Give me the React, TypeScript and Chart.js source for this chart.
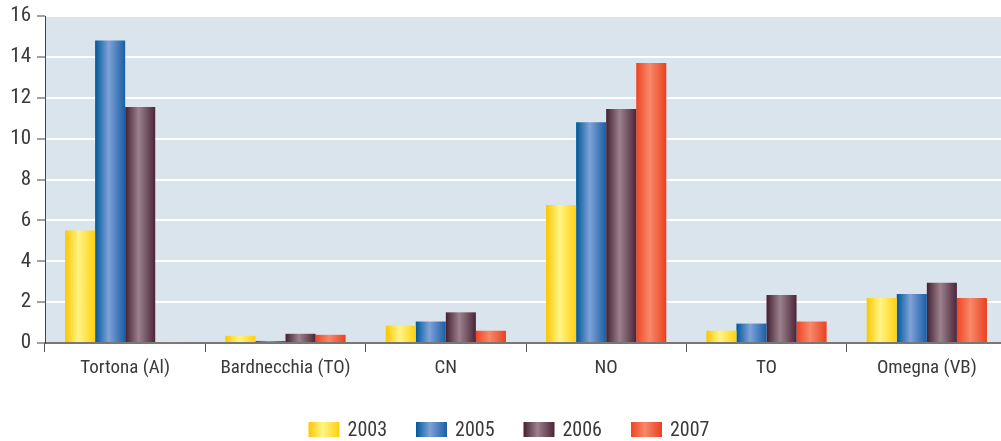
import React, { useEffect, useRef } from "react";
import { Chart, registerables } from "chart.js";

Chart.register(...registerables);

const categories = ["Tortona (Al)", "Bardnecchia (TO)", "CN", "NO", "TO", "Omegna (VB)"];
const seriesNames = ["2003", "2005", "2006", "2007"];
const values2003 = [5.5, 0.35, 0.85, 6.75, 0.6, 2.2];
const values2005 = [14.8, 0.1, 1.05, 10.8, 0.95, 2.4];
const values2006 = [11.55, 0.45, 1.5, 11.45, 2.35, 2.95];
const values2007 = [0.04, 0.4, 0.6, 13.7, 1.05, 2.2];
const yTicks = [0, 2, 4, 6, 8, 10, 12, 14, 16];

const gradientStops: string[][] = [
  ["#FDC600", "#FFF585", "#FFD010"],
  ["#00589A", "#7FA2D8", "#1A5EA6"],
  ["#45202F", "#9C818E", "#4C2538"],
  ["#EE4424", "#F6896A", "#EA4020"],
];

const FONT = "'Roboto Condensed', 'Liberation Sans Narrow', 'DejaVu Sans Condensed', sans-serif";
const CAT_PCT = 0.75;

function makeGradient(ctx: CanvasRenderingContext2D, x0: number, w: number, s: number) {
  if (!isFinite(x0) || !isFinite(w) || w <= 0) return gradientStops[s][0] as any;
  const g = ctx.createLinearGradient(x0, 0, x0 + w, 0);
  const c = gradientStops[s];
  g.addColorStop(0, c[0]);
  g.addColorStop(0.45, c[1]);
  g.addColorStop(1, c[2]);
  return g;
}

export default function App() {
  const ref = useRef<HTMLCanvasElement | null>(null);

  useEffect(() => {
    if (!ref.current) return;
    const allValues = [values2003, values2005, values2006, values2007];

    const bgPlugin = {
      id: "bg",
      beforeDraw(chart: any) {
        const { ctx, chartArea } = chart;
        ctx.save();
        ctx.fillStyle = "#D9E4EC";
        ctx.fillRect(chartArea.left, chartArea.top, chartArea.right - chartArea.left, chartArea.bottom - chartArea.top);
        ctx.restore();
      },
    };

    const legendPlugin = {
      id: "customLegend",
      afterDraw(chart: any) {
        const ctx = chart.ctx as CanvasRenderingContext2D;
        ctx.save();
        ctx.font = `20px ${FONT}`;
        const boxW = 31, boxH = 15, gap = 8, spacing = 29;
        const widths = seriesNames.map((n) => boxW + gap + ctx.measureText(n).width);
        const total = widths.reduce((a, b) => a + b, 0) + spacing * (seriesNames.length - 1);
        let x = chart.width / 2 + 5 - total / 2;
        const yTop = 422;
        seriesNames.forEach((n, i) => {
          ctx.fillStyle = makeGradient(ctx, x, boxW, i);
          ctx.fillRect(x, yTop, boxW, boxH);
          ctx.fillStyle = "#3a3a3a";
          ctx.textBaseline = "middle";
          ctx.textAlign = "left";
          ctx.fillText(n, x + boxW + gap, yTop + boxH / 2 + 1);
          x += widths[i] + spacing;
        });
        ctx.restore();
      },
    };

    const chart = new Chart(ref.current, {
      type: "bar",
      data: {
        labels: categories,
        datasets: seriesNames.map((name, s) => ({
          label: name,
          data: allValues[s],
          borderWidth: 0,
          barPercentage: 1,
          categoryPercentage: CAT_PCT,
          backgroundColor: (c: any) => {
            const chartObj = c.chart;
            const xs = chartObj.scales?.x;
            if (!xs || c.dataIndex === undefined) return gradientStops[s][0];
            const catW = xs.width / categories.length;
            const slot = (catW * CAT_PCT) / seriesNames.length;
            const center = xs.getPixelForValue(c.dataIndex);
            const left = center - (catW * CAT_PCT) / 2 + s * slot;
            return makeGradient(chartObj.ctx, left, slot, s);
          },
        })),
      },
      options: {
        animation: false,
        responsive: false,
        maintainAspectRatio: false,
        layout: { padding: { left: 0, right: 1, top: 16, bottom: 0 } },
        plugins: {
          legend: { display: false },
          tooltip: { enabled: false },
        },
        scales: {
          x: {
            afterFit: (scale: any) => {
              scale.height = 98;
              scale.paddingLeft = 0;
              scale.paddingRight = 0;
            },
            grid: {
              offset: true,
              drawOnChartArea: false,
              drawTicks: true,
              tickLength: 9,
              color: "#555",
              lineWidth: 1,
            },
            border: { color: "#777", width: 2 },
            ticks: {
              color: "#3a3a3a",
              font: { family: FONT, size: 19 },
              padding: 5,
              maxRotation: 0,
            },
          },
          y: {
            min: 0,
            max: 16,
            afterFit: (scale: any) => {
              scale.width = 45;
              scale.paddingTop = 0;
              scale.paddingBottom = 0;
            },
            afterBuildTicks: (scale: any) => {
              scale.ticks = yTicks.map((v) => ({ value: v }));
            },
            grid: {
              color: (c: any) => (c.tick && c.tick.value === 0 ? "rgba(0,0,0,0)" : "#ffffff"),
              lineWidth: 2,
              tickColor: "#444",
              tickLength: 8,
              tickWidth: 1,
            },
            border: { color: "#444", width: 1 },
            ticks: {
              color: "#3a3a3a",
              font: { family: FONT, size: 21 },
              padding: 6,
            },
          },
        },
      },
      plugins: [bgPlugin, legendPlugin],
    } as any);

    return () => chart.destroy();
  }, []);

  return (
    <div style={{ position: "fixed", left: 0, top: 0, width: 1001, height: 441, overflow: "hidden", background: "#fff" }}>
      <canvas ref={ref} width={1008} height={441} style={{ display: "block", width: 1008, height: 441 }} />
    </div>
  );
}
